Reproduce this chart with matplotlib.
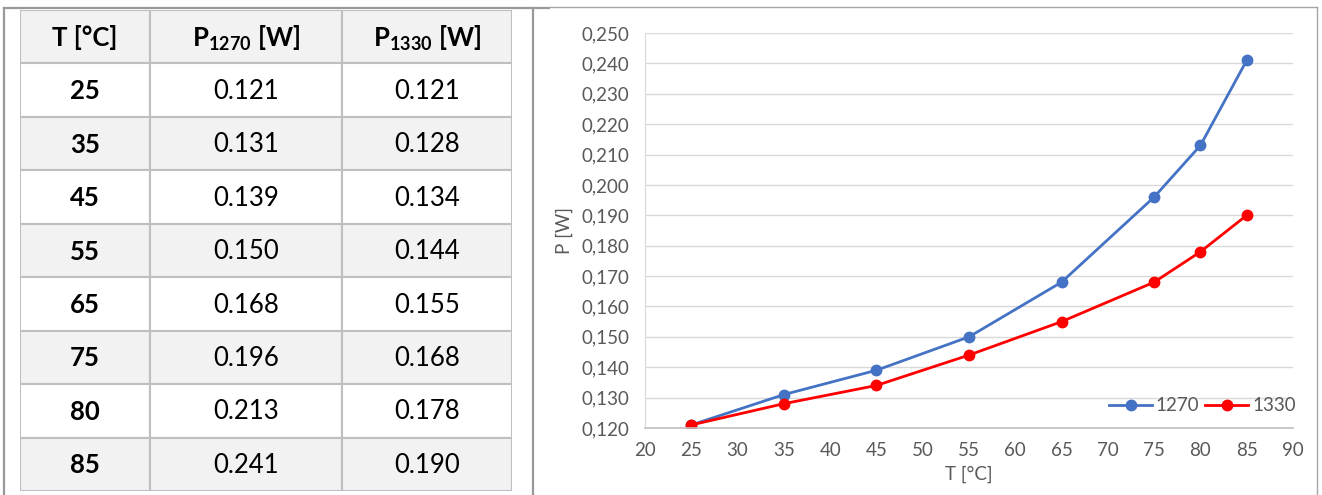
import matplotlib
matplotlib.use('Agg')
import matplotlib.pyplot as plt
from matplotlib.patches import Rectangle
from matplotlib.lines import Line2D

plt.rcParams['font.family'] = ['Lato', 'DejaVu Sans']
plt.rcParams['mathtext.fontset'] = 'custom'
plt.rcParams['mathtext.rm'] = 'Lato'
plt.rcParams['mathtext.bf'] = 'Lato:bold'

# данные
temps = [25, 35, 45, 55, 65, 75, 80, 85]
p1270 = [0.121, 0.131, 0.139, 0.150, 0.168, 0.196, 0.213, 0.241]
p1330 = [0.121, 0.128, 0.134, 0.144, 0.155, 0.168, 0.178, 0.190]
headers = ['T [°C]', r'P$_{\mathbf{1270}}$ [W]', r'P$_{\mathbf{1330}}$ [W]']
series_names = ['1270', '1330']
yticks = [0.120, 0.130, 0.140, 0.150, 0.160, 0.170, 0.180, 0.190,
          0.200, 0.210, 0.220, 0.230, 0.240, 0.250]
xticks = [20, 25, 30, 35, 40, 45, 50, 55, 60, 65, 70, 75, 80, 85, 90]

W, H = 1322, 495
fig = plt.figure(figsize=(W / 100, H / 100), dpi=100)

# рамки вокруг картинки (в пикселях фигуры)
frame = fig.add_axes([0, 0, 1, 1])
frame.set_xlim(0, W)
frame.set_ylim(H, 0)
frame.axis('off')
frame.add_line(Line2D([4, 4], [8, H], color='#999999', lw=1.6))
frame.add_line(Line2D([4, 549], [8, 8], color='#999999', lw=1.6))
frame.add_line(Line2D([549, 1317], [7, 7], color='#A6A6A6', lw=1.0))
frame.add_line(Line2D([533, 533], [8, H], color='#999999', lw=1.6))
frame.add_line(Line2D([1317, 1317], [7, H], color='#A6A6A6', lw=1.0))

# таблица
tx0, tx1, ty0, ty1 = 20, 512, 10, 491
tab = fig.add_axes([tx0 / W, 1 - ty1 / H, (tx1 - tx0) / W, (ty1 - ty0) / H])
col_edges = [0, 130, 322, 492]
nrows = len(temps) + 1
tab.set_xlim(0, col_edges[-1])
tab.set_ylim(nrows, 0)
tab.axis('off')

rows = [headers] + [[str(t), '%.3f' % a, '%.3f' % b] for t, a, b in zip(temps, p1270, p1330)]
for r, row in enumerate(rows):
    fill = '#F2F2F2' if r % 2 == 0 else 'white'
    for c, txt in enumerate(row):
        x0, x1 = col_edges[c], col_edges[c + 1]
        tab.add_patch(Rectangle((x0, r), x1 - x0, 1, facecolor=fill,
                                edgecolor='#BFBFBF', lw=1.5))
        bold = (r == 0) or (c == 0)
        tab.text((x0 + x1) / 2, r + 0.52, txt, ha='center', va='center',
                 fontsize=18.5, fontweight='bold' if bold else 'normal', color='black')

# график
ax = fig.add_axes([645 / W, 1 - 428 / H, (1293 - 645) / W, (428 - 33) / H])
ax.plot(temps, p1270, color='#4472C4', lw=2, marker='o', markersize=7.5, label=series_names[0])
ax.plot(temps, p1330, color='#FF0000', lw=2, marker='o', markersize=7.5, label=series_names[1])
ax.set_xlim(20, 90)
ax.set_ylim(0.120, 0.250)
ax.set_xticks(xticks)
ax.set_yticks(yticks)
ax.set_yticklabels([('%.3f' % v).replace('.', ',') for v in yticks])
ax.grid(axis='y', color='#D9D9D9', lw=1)
ax.set_axisbelow(True)
for s in ['top', 'right']:
    ax.spines[s].set_visible(False)
ax.spines['left'].set_color('#D9D9D9')
ax.spines['bottom'].set_color('#BFBFBF')
ax.spines['bottom'].set_linewidth(1.2)
ax.tick_params(length=0, labelsize=13.5, labelcolor='#595959')
ax.tick_params(axis='y', pad=11)
ax.tick_params(axis='x', pad=10)
ax.set_xlabel('T [°C]', fontsize=13.5, color='#595959', labelpad=5)
ax.set_ylabel('P [W]', fontsize=13.5, color='#595959', labelpad=6)
ax.legend(loc='lower right', bbox_to_anchor=(1.03, -0.008), ncol=2, frameon=False,
          fontsize=13.5, labelcolor='#595959', handlelength=2.3, handletextpad=0.2,
          columnspacing=0.3)

fig.savefig('out.png', dpi=100)
